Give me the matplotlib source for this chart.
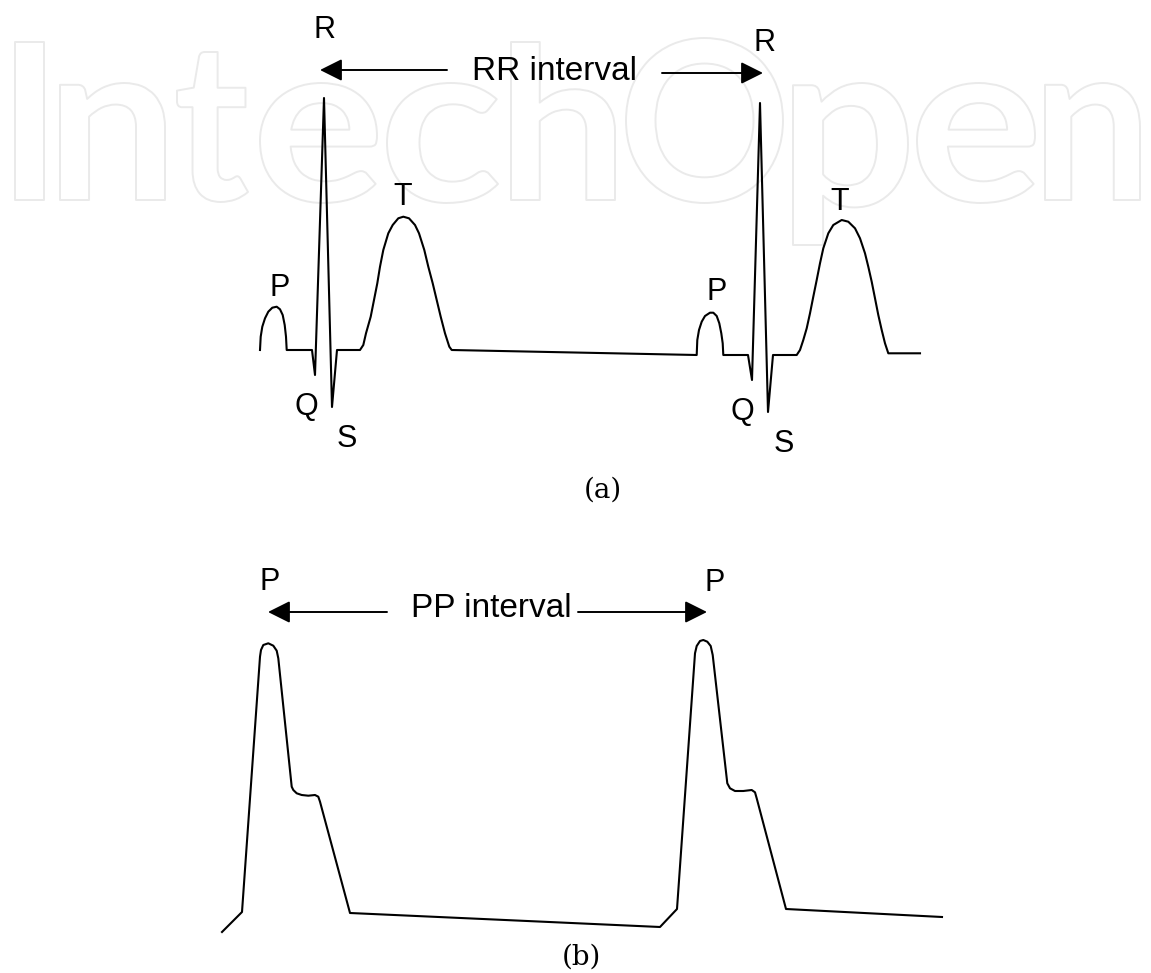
import matplotlib
matplotlib.use("Agg")
import matplotlib.pyplot as plt
from matplotlib.textpath import TextPath
from matplotlib.font_manager import FontProperties
from matplotlib.patches import PathPatch
from matplotlib.path import Path

# --- (a) ECG trace, image pixel coords (y grows downward)
ecg_x = [260, 260.7, 262.3, 265, 268.3, 272.3, 276.7, 280, 282.7, 284.7, 286, 286.7,
         312, 315, 324, 332, 337,
         360, 363.3, 366, 370.7, 374, 377.3, 380, 383.3, 388.3, 392.7, 398.3, 403.3,
         409, 415, 419, 424.3, 428.3, 432.7, 436.7, 440.7, 445, 449.3, 451.7,
         696.7, 697.3, 699, 701.7, 705, 710, 713.3, 716.7, 719.3, 721.3, 722.7, 723.3,
         748, 752, 760, 768, 773,
         796.7, 800, 803.3, 806.7, 810, 813.3, 816.7, 820, 823.3, 828.3, 833.3, 841.7,
         848.3, 855, 860, 865, 868.3, 871.7, 875, 878.3, 881.7, 885, 888.3, 920]
ecg_y = [350, 336.7, 326.7, 318.3, 311.7, 307.7, 306.7, 309.3, 315, 325, 336.7, 350,
         350, 375, 98, 407, 350,
         350, 345, 333.3, 316.7, 300, 283.3, 266.7, 250, 233.3, 225, 218.3, 216.7,
         218.3, 225, 233.3, 250, 266.7, 283.3, 300, 316.7, 333.3, 346.7, 350,
         355, 340, 330, 321.7, 316, 312.7, 312.7, 316, 323.3, 333.3, 343.3, 355,
         355, 380, 103, 412, 355,
         355, 350, 340, 328.3, 313.3, 296.7, 280, 263.3, 248.3, 233.3, 225, 220,
         221.7, 228.3, 238.3, 253.3, 266.7, 281.7, 298.3, 315, 330, 343.3, 353.3, 353.3]

# --- (b) PPG trace
ppg_x = [222, 242, 260, 261, 263.3, 268.3, 273.3, 276.7, 278.3,
         291.7, 293.3, 296.7, 301.7, 308.3, 315, 318.3, 320, 350,
         660, 677, 695, 696.7, 700, 703.3, 707.3, 710.7, 712.7,
         727.3, 730, 735, 743.3, 751.7, 755, 756.7, 786, 942]
ppg_y = [932, 912, 656.7, 650, 645, 643.3, 645.7, 650.7, 658.3,
         786.7, 790, 793.3, 795, 795.7, 795, 796.7, 801.7, 913,
         927, 909, 653.3, 646, 641, 640, 641.7, 646, 655,
         783.3, 788.3, 791, 791, 790, 792.3, 798.3, 909, 917]

# wave labels: text, x, baseline y
ecg_labels = ["R", "R", "T", "T", "P", "P", "Q", "Q", "S", "S"]
ecg_lab_x = [325, 765, 403, 840, 280, 717, 306, 742, 347, 784]
ecg_lab_y = [38, 51, 205, 210, 296, 300, 415, 420, 447, 452]
ppg_labels = ["P", "P"]
ppg_lab_x = [270, 715]
ppg_lab_y = [590, 591]

# watermark letters and boxes (left, right, top, bottom)
wm_text = "IntechOpen"
wm_boxes = [(15, 44, 42, 200), (60, 165, 83, 200), (177, 248, 52, 202), (260, 377, 83, 203),
            (387, 498, 83, 203), (511, 615, 42, 200), (626, 783, 38, 203), (793, 908, 83, 245),
            (917, 1035, 83, 203), (1045, 1140, 83, 200)]

fig = plt.figure(figsize=(11.51, 9.73), dpi=100)
ax = fig.add_axes([0, 0, 1, 1])
ax.set_xlim(0, 1151)
ax.set_ylim(973, 0)
ax.axis("off")

wm_font = FontProperties(family="Lato", weight="bold")
for ch, (x0, x1, y0, y1) in zip(wm_text, wm_boxes):
    tp = TextPath((0, 0), ch, size=100, prop=wm_font)
    ext = tp.get_extents()
    v = tp.vertices.copy()
    v[:, 0] = x0 + (v[:, 0] - ext.x0) / ext.width * (x1 - x0)
    v[:, 1] = y1 - (v[:, 1] - ext.y0) / ext.height * (y1 - y0)
    ax.add_patch(PathPatch(Path(v, tp.codes), facecolor="none", edgecolor="#eaeaea",
                           lw=1.4, joinstyle="round", zorder=0))

ax.plot(ecg_x, ecg_y, color="black", lw=1.5, solid_joinstyle="round")
ax.plot(ppg_x, ppg_y, color="black", lw=1.5, solid_joinstyle="round")

for t, x, y in zip(ecg_labels + ppg_labels, ecg_lab_x + ppg_lab_x, ecg_lab_y + ppg_lab_y):
    ax.text(x, y, t, fontsize=22, family="Liberation Sans", ha="center", va="baseline")

ap = dict(arrowstyle="-|>,head_length=0.9,head_width=0.45", mutation_scale=15,
          lw=1.4, color="black", shrinkA=0, shrinkB=0)
ax.annotate("", xy=(320, 70), xytext=(447, 70), arrowprops=ap)
ax.annotate("", xy=(763, 73), xytext=(662, 73), arrowprops=ap)
ax.text(555, 80, "RR interval", fontsize=24, family="Liberation Sans", ha="center", va="baseline")

ax.annotate("", xy=(268, 612), xytext=(387, 612), arrowprops=ap)
ax.annotate("", xy=(707, 612), xytext=(578, 612), arrowprops=ap)
ax.text(491, 617, "PP interval", fontsize=24, family="Liberation Sans", ha="center", va="baseline")

ax.text(603, 490, "(a)", fontsize=20, family="DejaVu Serif", ha="center", va="center")
ax.text(581, 957, "(b)", fontsize=20, family="DejaVu Serif", ha="center", va="center")

fig.savefig("out.png", dpi=100)
